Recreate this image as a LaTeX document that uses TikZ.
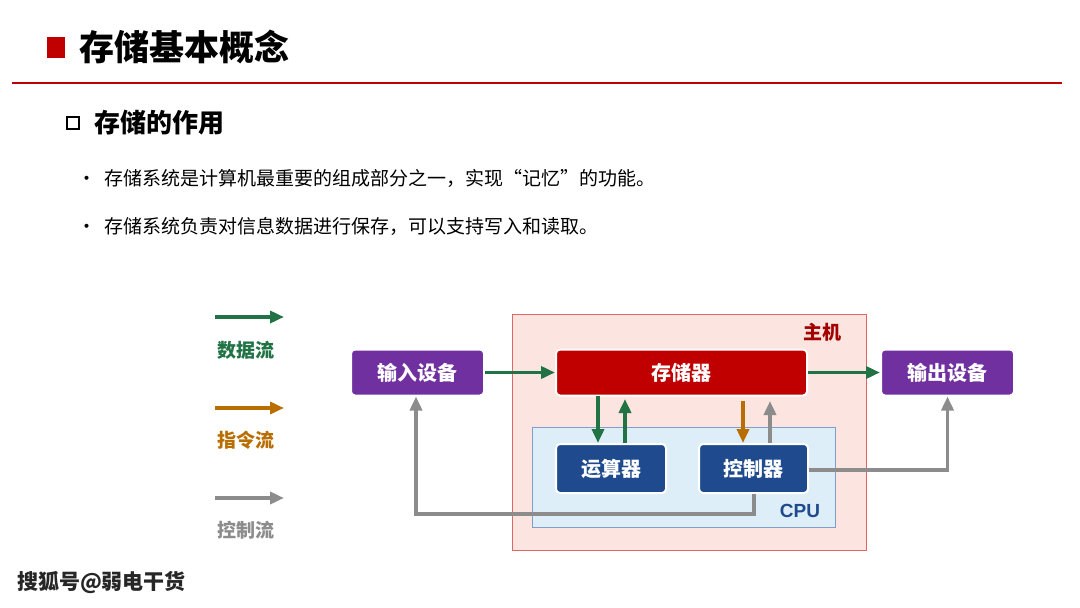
\documentclass[tikz,border=0pt]{standalone}
\usepackage{fontspec}
\setmainfont{Noto Sans CJK SC}
\setsansfont{Liberation Sans}
\usetikzlibrary{arrows.meta,positioning}
\definecolor{titlered}{HTML}{C00000}
\definecolor{flowgreen}{HTML}{217346}
\definecolor{floworange}{HTML}{B86E00}
\definecolor{flowgray}{HTML}{8C8C8C}
\definecolor{devpurple}{HTML}{7030A0}
\definecolor{unitblue}{HTML}{1F4B8E}
\definecolor{hostfill}{HTML}{FCE4E0}
\definecolor{hostdraw}{HTML}{E06666}
\definecolor{cpufill}{HTML}{DDEEF8}
\definecolor{cpudraw}{HTML}{7F9FC8}

\begin{document}
\begin{tikzpicture}[x=1pt,y=-1pt,>={Triangle[length=14pt,width=12pt]},line width=3.5pt,
                    font=\fontsize{19}{22}\selectfont]
  \tikzstyle{box}=[rounded corners=4pt,draw=white,line width=2pt,text=white,
                   font=\fontsize{20}{24}\selectfont\bfseries,minimum height=46pt]
  \tikzstyle{data}=[->,flowgreen]
  \tikzstyle{cmd}=[->,floworange]
  \tikzstyle{ctrl}=[->,flowgray]
  \tikzstyle{legend}=[font=\fontsize{19}{22}\selectfont\bfseries]

  \useasboundingbox (0,0) rectangle (1080,608);

  % title
  \fill[titlered] (47,37) rectangle (65,58);
  \node[anchor=west,font=\fontsize{35}{40}\selectfont\bfseries] (title) at (74,47) {存储基本概念};
  \draw[titlered,line width=1.5pt] (12,83) -- (1062,83);
  \draw[line width=2pt] (67,117) rectangle (79,129);
  \node[anchor=west,font=\fontsize{26}{30}\selectfont\bfseries] (sub) at (89,123) {存储的作用};
  \node[anchor=west] (b1) at (72,178) {•\hspace{8pt}存储系统是计算机最重要的组成部分之一，实现“记忆”的功能。};
  \node[anchor=west] (b2) at (72,226) {•\hspace{8pt}存储系统负责对信息数据进行保存，可以支持写入和读取。};

  % legend
  \coordinate (l1a) at (215,317); \coordinate (l1b) at (284,317);
  \coordinate (l2a) at (215,408); \coordinate (l2b) at (284,408);
  \coordinate (l3a) at (215,498); \coordinate (l3b) at (284,498);
  \draw[data] (l1a) -- (l1b);
  \draw[cmd] (l2a) -- (l2b);
  \draw[ctrl] (l3a) -- (l3b);
  \node[legend,text=flowgreen] (ldata) at (246,350) {数据流};
  \node[legend,text=floworange] (lcmd) at (246,440) {指令流};
  \node[legend,text=flowgray] (lctrl) at (246,530) {控制流};

  % host and cpu
  \draw[hostdraw,fill=hostfill,line width=1pt] (512,314) rectangle (866,550);
  \node[legend,text=titlered!85!black] (host) at (822,332) {主机};
  \draw[cpudraw,fill=cpufill,line width=1pt] (532,427) rectangle (835,527);
  \node[text=unitblue,font=\sffamily\fontsize{19}{22}\selectfont\bfseries] (cpu) at (800,511) {CPU};

  % units
  \node[box,fill=devpurple,minimum width=133pt] (in) at (417.5,372.5) {输入设备};
  \node[box,fill=titlered,minimum width=251pt] (mem) at (681.5,372.5) {存储器};
  \node[box,fill=devpurple,minimum width=133pt] (out) at (947.5,372.5) {输出设备};
  \node[box,fill=unitblue,minimum width=110pt,minimum height=49pt] (alu) at (611,468.5) {运算器};
  \node[box,fill=unitblue,minimum width=109pt,minimum height=49pt] (cu) at (753.5,468.5) {控制器};

  % flows
  \draw[data] (in) -- (mem);
  \draw[data] (mem) -- (out);
  \draw[data] (alu.north -| 598,0) ++(0,-47) -- (alu.north -| 598,0);
  \draw[data] (alu.north -| 625,0) -- ++(0,-44);
  \draw[cmd] (cu.north -| 743,0) ++(0,-42) -- (cu.north -| 743,0);
  \draw[ctrl] (cu.north -| 770,0) -- ++(0,-42);
  \draw[ctrl] (cu.east |- 0,470) -| (out.south);
  \draw[ctrl] (cu.south -| 754,0) |- (416,514) -- (in.south -| 416,0);

  % watermark
  \node[anchor=west,text=black!85,font=\fontsize{21}{24}\selectfont\bfseries] (mark) at (12,583) {搜狐号@弱电干货};
\end{tikzpicture}
\end{document}
